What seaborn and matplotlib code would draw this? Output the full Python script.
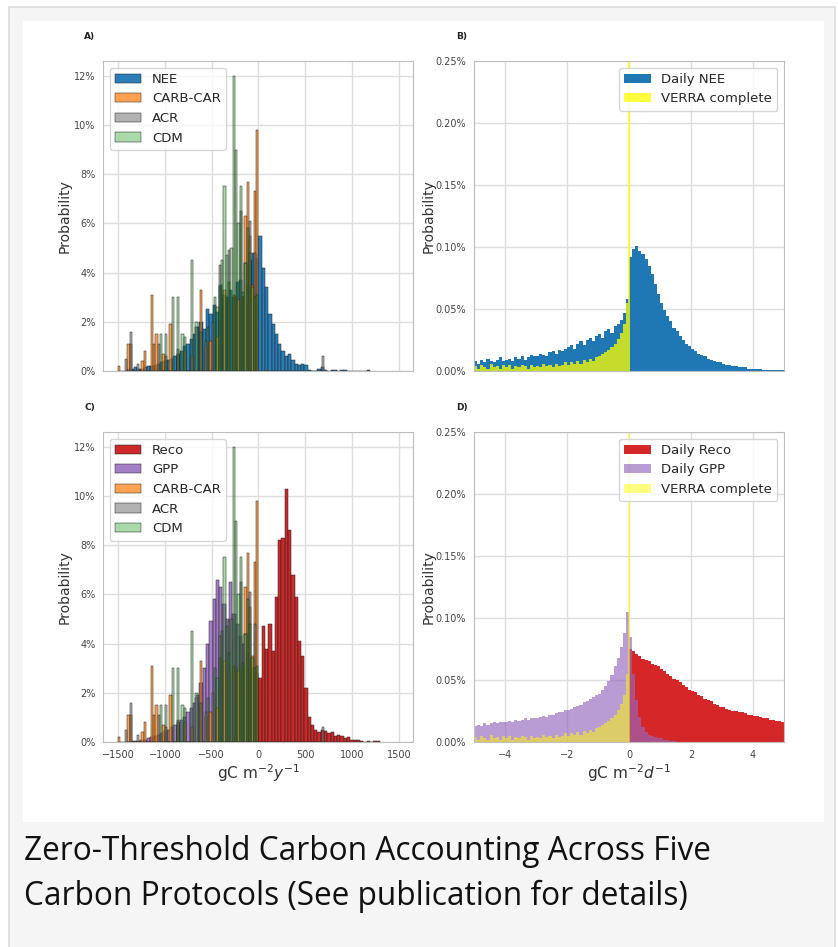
import numpy as np
import pandas as pd
import matplotlib
matplotlib.use("Agg")
import matplotlib.pyplot as plt
from matplotlib.patches import Rectangle
from matplotlib.ticker import PercentFormatter
import seaborn as sns

# ---- annual data (percent per bin), 35 gC bins ----
ANNUAL_W = 35
nee_start = -1400
nee_pct = [0.1, 0.1, 0.15, 0.1, 0.1, 0.15, 0.2, 0.2, 0.25, 0.3,
           0.35, 0.4, 0.45, 0.5, 0.6, 0.7, 0.8, 1.0, 1.1, 1.3,
           1.5, 1.8, 2.0, 1.7, 2.5, 2.3, 2.7, 2.4, 3.5, 3.1,
           3.0, 3.3, 3.0, 3.6, 3.7, 3.0, 3.5, 4.5, 4.8, 4.6,
           5.5, 4.2, 3.4, 2.3, 1.9, 1.5, 1.1, 0.8, 0.6, 0.7,
           0.45, 0.3, 0.25, 0.3, 0.25, 0.05, 0.0, 0.0, 0.1, 0.15,
           0.05, 0.0, 0.05, 0.05, 0.0, 0.05, 0.05, 0.0, 0.0, 0.0,
           0.0, 0.0, 0.0, 0.05]

gpp_start = -1400
gpp_pct = [0.02, 0.03, 0.05, 0.05, 0.08, 0.1, 0.15, 0.2, 0.25, 0.3,
           0.35, 0.45, 0.5, 0.6, 0.7, 0.8, 0.9, 1.0, 1.2, 1.4,
           1.6, 1.9, 2.4, 3.0, 4.0, 4.9, 5.8, 6.6, 6.3, 5.6,
           5.0, 6.5, 5.2, 4.8, 4.3, 4.0, 3.6, 3.3, 3.0, 2.8]

reco_start = 0
reco_pct = [2.6, 4.7, 3.8, 4.8, 3.7, 5.9, 8.2, 8.3, 10.3, 8.6,
            6.8, 5.9, 4.1, 3.5, 2.2, 1.0, 0.7, 0.5, 0.4, 0.5,
            0.45, 0.35, 0.4, 0.25, 0.3, 0.25, 0.15, 0.2, 0.1, 0.1,
            0.08, 0.05, 0.0, 0.05, 0.0, 0.05, 0.04]

# protocol thresholds (25 gC bins)
PROT_W = 25
carb_x = [-1487.5, -1387.5, -1362.5, -1237.5, -1212.5, -1137.5, -1112.5, -1087.5,
          -1012.5, -937.5, -862.5, -787.5, -712.5, -612.5, -562.5, -512.5,
          -437.5, -362.5, -312.5, -262.5, -212.5, -162.5, -137.5, -112.5,
          -87.5, -62.5, -37.5, -12.5]
carb_pct = [0.2, 1.1, 1.1, 0.4, 0.8, 3.1, 1.1, 1.5,
            0.7, 1.9, 0.7, 0.8, 0.6, 3.3, 1.0, 1.2,
            1.4, 3.3, 2.8, 3.1, 2.9, 3.0, 6.3, 7.7,
            5.5, 3.5, 7.3, 9.8]

acr_x = [-1412.5, -1362.5, -1287.5, -1062.5, -987.5, -862.5, -662.5, -562.5,
         -487.5, -412.5, -312.5, -237.5, -187.5, -137.5, -87.5, -37.5, 687.5]
acr_pct = [0.5, 1.6, 0.3, 1.1, 0.6, 0.9, 1.8, 1.2,
           2.0, 4.3, 4.9, 3.0, 6.5, 4.4, 6.1, 4.8, 0.6]

cdm_x = [-1037.5, -987.5, -912.5, -862.5, -812.5, -787.5, -712.5, -662.5,
         -612.5, -537.5, -462.5, -437.5, -412.5, -387.5, -362.5, -337.5,
         -312.5, -287.5, -262.5, -237.5, -212.5, -187.5, -162.5, -137.5,
         -112.5, -87.5, -62.5, -37.5, -12.5]
cdm_pct = [1.5, 1.5, 3.0, 3.0, 1.5, 1.4, 4.5, 2.0,
           1.6, 1.8, 3.0, 2.6, 3.4, 4.5, 7.5, 4.7,
           3.6, 5.0, 12.0, 9.0, 6.0, 7.5, 3.2, 4.4,
           5.8, 4.8, 3.4, 3.0, 3.1]

# ---- daily data (percent per 0.1 gC bin) ----
DAILY_W = 0.1
dnee_start = -5.0
dnee_pct = [0.008, 0.006, 0.009, 0.007, 0.010, 0.008, 0.007, 0.009, 0.011, 0.008,
            0.009, 0.010, 0.008, 0.011, 0.010, 0.012, 0.009, 0.011, 0.013, 0.012,
            0.012, 0.014, 0.013, 0.012, 0.015, 0.016, 0.014, 0.017, 0.016, 0.018,
            0.019, 0.021, 0.018, 0.022, 0.024, 0.021, 0.025, 0.027, 0.024, 0.028,
            0.030, 0.027, 0.032, 0.034, 0.031, 0.036, 0.038, 0.041, 0.047, 0.058,
            0.092, 0.098, 0.101, 0.097, 0.094, 0.090, 0.085, 0.078, 0.070, 0.062,
            0.055, 0.049, 0.044, 0.040, 0.035, 0.032, 0.028, 0.025, 0.022, 0.020,
            0.018, 0.016, 0.014, 0.013, 0.012, 0.010, 0.009, 0.008, 0.007, 0.007,
            0.006, 0.005, 0.005, 0.004, 0.004, 0.003, 0.003, 0.003, 0.002, 0.002,
            0.002, 0.002, 0.002, 0.001, 0.001, 0.001, 0.001, 0.001, 0.001, 0.001]

dreco_start = 0.0
dreco_pct = [0.075, 0.073, 0.071, 0.069, 0.067, 0.066, 0.065, 0.063, 0.062, 0.061,
             0.059, 0.057, 0.055, 0.053, 0.051, 0.050, 0.048, 0.046, 0.044, 0.042,
             0.041, 0.040, 0.038, 0.037, 0.035, 0.034, 0.033, 0.031, 0.030, 0.028,
             0.028, 0.027, 0.026, 0.025, 0.025, 0.024, 0.024, 0.023, 0.022, 0.022,
             0.021, 0.021, 0.020, 0.019, 0.019, 0.018, 0.018, 0.017, 0.017, 0.016]

dgpp_start = -5.0
dgpp_pct = [0.013, 0.014, 0.013, 0.015, 0.014, 0.015, 0.016, 0.015, 0.016, 0.016,
            0.016, 0.017, 0.016, 0.018, 0.017, 0.018, 0.019, 0.018, 0.019, 0.019,
            0.019, 0.020, 0.021, 0.020, 0.022, 0.022, 0.023, 0.024, 0.024, 0.026,
            0.026, 0.027, 0.028, 0.029, 0.030, 0.032, 0.033, 0.035, 0.036, 0.038,
            0.039, 0.042, 0.045, 0.049, 0.054, 0.061, 0.068, 0.077, 0.088, 0.105,
            0.085, 0.055, 0.034, 0.020, 0.012, 0.008, 0.006, 0.005, 0.004, 0.003,
            0.003, 0.002, 0.002, 0.001, 0.001]

# VERRA complete: 0.1 bins from -5 to -0.1, then -0.1..-0.02, then the zero spike
verra_start = -5.0
verra_pct = [0.004, 0.002, 0.005, 0.003, 0.002, 0.006, 0.003, 0.004, 0.002, 0.005,
             0.003, 0.005, 0.002, 0.004, 0.003, 0.005, 0.004, 0.002, 0.005, 0.003,
             0.004, 0.003, 0.006, 0.004, 0.005, 0.003, 0.006, 0.004, 0.005, 0.007,
             0.005, 0.007, 0.006, 0.008, 0.006, 0.009, 0.007, 0.010, 0.008, 0.011,
             0.012, 0.014, 0.015, 0.017, 0.019, 0.022, 0.026, 0.031, 0.038]
verra_near0_pct = 0.055
verra_zero_pct = 1.0


def dense(start, width, pct):
    n = len(pct)
    edges = start + width * np.arange(n + 1)
    centers = edges[:-1] + width / 2
    return centers, np.array(pct) / 100, edges


def sparse(xs, width, pct):
    xs = np.array(xs)
    lo = np.floor(xs.min() / width) * width
    hi = np.ceil(xs.max() / width) * width
    edges = np.arange(lo, hi + width / 2, width)
    return xs, np.array(pct) / 100, edges


def hist(ax, data, **kw):
    x, w, edges = data
    df = pd.DataFrame({"x": x, "w": w})
    sns.histplot(data=df, x="x", weights="w", bins=list(edges), ax=ax, **kw)


sns.set_style("whitegrid", {"grid.color": "#dedede", "axes.edgecolor": "#bdbdbd"})
plt.rcParams["font.family"] = ["DejaVu Sans"]

fig = plt.figure(figsize=(8.38, 9.47), dpi=100)
fig.patch.set_facecolor("white")
W, H = 838, 947
fig.patches.append(Rectangle((9 / W, -0.05), 826 / W, 1.05 - 7 / H, transform=fig.transFigure,
                             facecolor="#f5f5f5", edgecolor="#dcdcdc", lw=1.2, zorder=-10))
fig.patches.append(Rectangle((23 / W, 1 - 822 / H), 801 / W, 801 / H, transform=fig.transFigure,
                             facecolor="white", edgecolor="none", zorder=-9))


def axes_at(x0, y0):
    return fig.add_axes([x0 / W, 1 - (y0 + 310) / H, 310 / W, 310 / H])


axA = axes_at(103, 61)
axB = axes_at(474, 61)
axC = axes_at(103, 432)
axD = axes_at(474, 432)

edge_kw = dict(edgecolor="#202020", linewidth=0.35)
prot = [
    (sparse(carb_x, PROT_W, carb_pct), dict(color="#ff7f0e", alpha=0.72, label="CARB-CAR")),
    (sparse(acr_x, PROT_W, acr_pct), dict(color="#7f7f7f", alpha=0.6, label="ACR")),
    (sparse(cdm_x, PROT_W, cdm_pct), dict(color="#2ca02c", alpha=0.4, label="CDM")),
]

# A) annual NEE vs protocols
hist(axA, dense(nee_start, ANNUAL_W, nee_pct), color="#1f77b4", alpha=0.95, label="NEE", **edge_kw)
for d, kw in prot:
    hist(axA, d, **kw, **edge_kw)

# C) annual Reco / GPP vs protocols
hist(axC, dense(reco_start, ANNUAL_W, reco_pct), color="#c81e1e", alpha=0.95, label="Reco", **edge_kw)
hist(axC, dense(gpp_start, ANNUAL_W, gpp_pct), color="#9467bd", alpha=0.85, label="GPP", **edge_kw)
for d, kw in prot:
    hist(axC, d, **kw, **edge_kw)

# VERRA bins
v_edges = np.r_[verra_start + DAILY_W * np.arange(len(verra_pct) + 1), -0.02, 0.02]
v_x = (v_edges[:-1] + v_edges[1:]) / 2
v_w = np.r_[verra_pct, verra_near0_pct, verra_zero_pct] / 100
verra = (v_x, v_w, v_edges)

# B) daily NEE
hist(axB, dense(dnee_start, DAILY_W, dnee_pct), color="#1f77b4", alpha=1.0, linewidth=0, label="Daily NEE")
hist(axB, verra, color="#ffff00", alpha=0.75, linewidth=0, label="VERRA complete")

# D) daily Reco / GPP
hist(axD, dense(dreco_start, DAILY_W, dreco_pct), color="#d62728", alpha=1.0, linewidth=0, label="Daily Reco")
hist(axD, dense(dgpp_start, DAILY_W, dgpp_pct), color="#9467bd", alpha=0.65, linewidth=0, label="Daily GPP")
hist(axD, verra, color="#ffff00", alpha=0.5, linewidth=0, label="VERRA complete")

for ax in (axA, axC):
    ax.set_xlim(-1660, 1650)
    ax.set_ylim(0, 0.126)
    ax.set_xticks([-1500, -1000, -500, 0, 500, 1000, 1500])
    ax.set_yticks(np.arange(0, 0.121, 0.02))
    ax.yaxis.set_major_formatter(PercentFormatter(1.0, decimals=0))
    ax.legend(loc="upper left", fontsize=9.5, framealpha=0.8)
    ax.yaxis.set_label_coords(-0.1, 0.5)

for ax in (axB, axD):
    ax.set_xlim(-5, 5)
    ax.set_ylim(0, 0.0025)
    ax.set_xticks([-4, -2, 0, 2, 4])
    ax.set_yticks(np.arange(0, 0.00251, 0.0005))
    ax.yaxis.set_major_formatter(PercentFormatter(1.0, decimals=2))
    ax.legend(loc="upper right", fontsize=9.5, framealpha=0.8)
    ax.yaxis.set_label_coords(-0.125, 0.5)

for ax in (axA, axB, axC, axD):
    ax.set_ylabel("Probability", fontsize=10, color="#333333")
    ax.set_xlabel("")
    ax.tick_params(labelsize=7, colors="#444444", pad=2)
    ax.grid(linewidth=1.0)
    for s in ax.spines.values():
        s.set_visible(True)

for ax in (axA, axB):
    ax.tick_params(labelbottom=False)

axC.set_xlabel("gC m$^{-2}y^{-1}$", fontsize=11, color="#333333", labelpad=2)
axD.set_xlabel("gC m$^{-2}d^{-1}$", fontsize=11, color="#333333", labelpad=2)

for lab, x, y in [("A)", 84, 39), ("B)", 456, 39), ("C)", 84, 410), ("D)", 456, 410)]:
    fig.text(x / W, 1 - y / H, lab, fontsize=6.5, fontweight="bold", color="#222222")

fig.text(24 / W, 1 - 860 / H, "Zero-Threshold Carbon Accounting Across Five",
         fontsize=22.8, family="Open Sans", color="#111111")
fig.text(24 / W, 1 - 905 / H, "Carbon Protocols (See publication for details)",
         fontsize=22.8, family="Open Sans", color="#111111")

fig.savefig("out.png", dpi=100)
